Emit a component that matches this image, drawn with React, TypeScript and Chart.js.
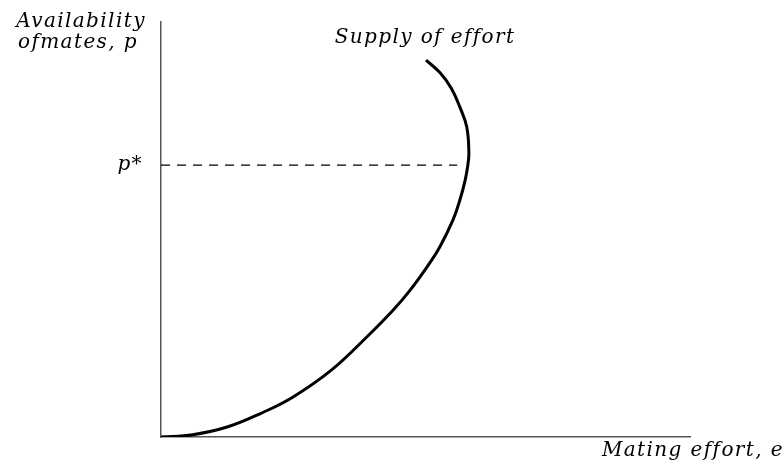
import React, { useEffect, useRef } from "react";
import { Chart, registerables } from "chart.js";

Chart.register(...registerables);

// Supply of effort curve: mating effort (x) vs availability of mates (y)
const effortValues = [0, 6.0, 12.5, 18.7, 24.9, 32.2, 38.9, 43.9, 47.1, 50.3, 52.7, 55.2, 56.5, 57.5, 58.0, 58.2, 57.8, 56.5, 54.9, 52.8, 50.1];
const availabilityValues = [0, 0.55, 2.4, 5.6, 9.6, 16.1, 24.1, 30.6, 35.4, 41.0, 45.8, 52.3, 57.1, 61.9, 65.5, 68.5, 74.7, 79.5, 84.0, 87.7, 90.8];
const pStar = 65.5;
const pStarEffort = 56.0;
const curveLabel = "Supply of effort";
const xTitle = "Mating effort, e";
const yTitleLines = ["Availability", "ofmates, p"];
const pStarLabel = "p*";

const FONT = "italic 20px 'DejaVu Serif', serif";

const textPlugin = {
  id: "annotText",
  afterDraw(chart: any) {
    const ctx = chart.ctx;
    const xs = chart.scales.x;
    const ys = chart.scales.y;
    ctx.save();
    ctx.fillStyle = "#000";
    ctx.font = FONT;
    (ctx as any).letterSpacing = "1.4px";
    ctx.textBaseline = "alphabetic";
    ctx.textAlign = "center";
    ctx.fillText(yTitleLines[0], 81, 27);
    ctx.fillText(yTitleLines[1], 78, 48);
    ctx.textAlign = "right";
    ctx.fillText(xTitle, 784, 456);
    ctx.fillText(pStarLabel, xs.left - 18, ys.getPixelForValue(pStar) + 5);
    ctx.textAlign = "center";
    ctx.fillText(curveLabel, 425, 43);
    ctx.restore();
  },
};

export default function App() {
  const ref = useRef<HTMLCanvasElement>(null);
  useEffect(() => {
    document.body.style.margin = "0";
    const curve = effortValues.map((x, i) => ({ x, y: availabilityValues[i] }));
    const dashed = [
      { x: 0, y: pStar },
      { x: pStarEffort, y: pStar },
    ];
    const chart = new Chart(ref.current!, {
      type: "line",
      data: {
        datasets: [
          {
            data: curve,
            borderColor: "#000",
            borderWidth: 3,
            pointRadius: 0,
            tension: 0.4,
            capBezierPoints: false,
            fill: false,
          },
          {
            data: dashed,
            borderColor: "#000",
            borderWidth: 1.2,
            borderDash: [9, 7],
            pointRadius: 0,
            tension: 0,
            fill: false,
          },
        ],
      },
      options: {
        indexAxis: "y",
        responsive: false,
        animation: false,
        layout: { padding: { left: 161, right: 94, top: 22, bottom: 35 } },
        plugins: { legend: { display: false }, tooltip: { enabled: false } },
        scales: {
          x: {
            type: "linear",
            min: 0,
            max: 100,
            ticks: { display: false },
            grid: { display: false, drawTicks: false },
            border: { display: true, color: "#555", width: 1.5 },
          },
          y: {
            type: "linear",
            min: 0,
            max: 100,
            ticks: { display: false },
            grid: { display: false, drawTicks: false },
            border: { display: true, color: "#555", width: 1.5 },
          },
        },
      },
      plugins: [textPlugin],
    });
    return () => chart.destroy();
  }, []);
  return <canvas ref={ref} width={784} height={472} style={{ width: 784, height: 472, display: "block" }} />;
}
